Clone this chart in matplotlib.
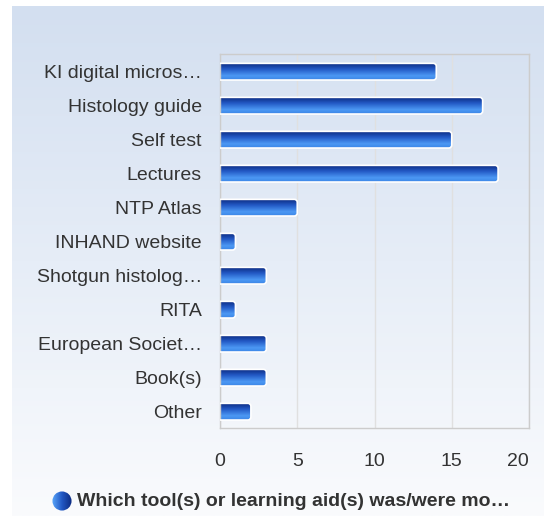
import numpy as np
import matplotlib
matplotlib.use("Agg")
import matplotlib.pyplot as plt
from matplotlib.colors import LinearSegmentedColormap
from matplotlib.patches import FancyBboxPatch, Circle

plt.rcParams["font.family"] = ["Liberation Sans", "DejaVu Sans"]

labels = ["KI digital micros…", "Histology guide", "Self test", "Lectures",
          "NTP Atlas", "INHAND website", "Shotgun histolog…", "RITA",
          "European Societ…", "Book(s)", "Other"]
values = [14, 17, 15, 18, 5, 1, 3, 1, 3, 3, 2]
xticks = [0, 5, 10, 15, 20]
legend_text = "Which tool(s) or learning aid(s) was/were mo…"

W, H = 544, 516
fig = plt.figure(figsize=(W / 100, H / 100), dpi=100)
fig.patch.set_facecolor("white")

# background panel with vertical gradient
bg = fig.add_axes([12 / W, 0, 1 - 12 / W, 1 - 6 / H], zorder=-5)
bg_cmap = LinearSegmentedColormap.from_list("bg", ["#d3dff0", "#e6edf7", "#fafbfd"])
bg.imshow(np.linspace(0, 1, 256).reshape(-1, 1), aspect="auto", cmap=bg_cmap,
          extent=[0, 1, 0, 1], origin="upper")
bg.axis("off")

ax = fig.add_axes([220 / W, 1 - 428 / H, (529 - 220) / W, (428 - 54) / H])
ax.patch.set_alpha(0)

bar_cmap = LinearSegmentedColormap.from_list(
    "bar", [(0, "#0c2a80"), (0.35, "#2258c4"), (0.75, "#4c98f4"), (1, "#3c86e6")])
grad = np.linspace(0, 1, 64).reshape(-1, 1)

# data units per pixel
px_x = 20 / (529 - 220)
px_y = len(labels) / (428 - 54)
bh = 0.49
for i, v in enumerate(values):
    x0 = -0.4
    y0 = i - bh / 2 + 0.02
    patch = FancyBboxPatch((x0, y0), v - x0, bh,
                           boxstyle="round,pad=0,rounding_size=%f" % (3 * px_x),
                           mutation_aspect=px_y / px_x,
                           facecolor="none", edgecolor="white", lw=1.2, zorder=3)
    ax.add_patch(patch)
    im = ax.imshow(grad, aspect="auto", cmap=bar_cmap, origin="upper",
                   extent=[x0, v, y0 + bh, y0], zorder=2)
    im.set_clip_path(patch)

ax.set_xlim(0, 20)
ax.set_ylim(len(labels) - 0.5, -0.5)

ax.set_yticks(range(len(labels)))
ax.set_yticklabels(labels)
ax.set_xticks(xticks)
ax.set_xticklabels([str(t) for t in xticks])
ax.xaxis.get_majorticklabels()[-1].set_horizontalalignment("right")
ax.tick_params(axis="both", length=0, labelsize=14, colors="#333333")
ax.tick_params(axis="x", pad=18)
ax.tick_params(axis="y", pad=13)
ax.xaxis.grid(True, color="#e0e0e0", lw=1)
ax.set_axisbelow(True)
for s in ax.spines.values():
    s.set_color("#cccccc")
    s.set_linewidth(1)

# legend
lx, ly, r = 62, 501, 9.5
lax = fig.add_axes([(lx - r - 1) / W, 1 - (ly + r + 1) / H, (2 * r + 2) / W, (2 * r + 2) / H])
lax.set_xlim(-1.1, 1.1)
lax.set_ylim(-1.1, 1.1)
lax.axis("off")
circ = Circle((0, 0), 1, facecolor="none", edgecolor="none")
lax.add_patch(circ)
leg_cmap = LinearSegmentedColormap.from_list("leg", ["#5aa6fa", "#2258c4", "#0c2a80"])
lim = lax.imshow(np.linspace(0, 1, 64).reshape(1, -1), aspect="auto", cmap=leg_cmap,
                 extent=[-1, 1, -1, 1])
lim.set_clip_path(circ)

fig.text(77 / W, 1 - ly / H, legend_text, fontsize=14, fontweight="bold",
         color="#333333", ha="left", va="center")

fig.savefig("out.png", dpi=100)
